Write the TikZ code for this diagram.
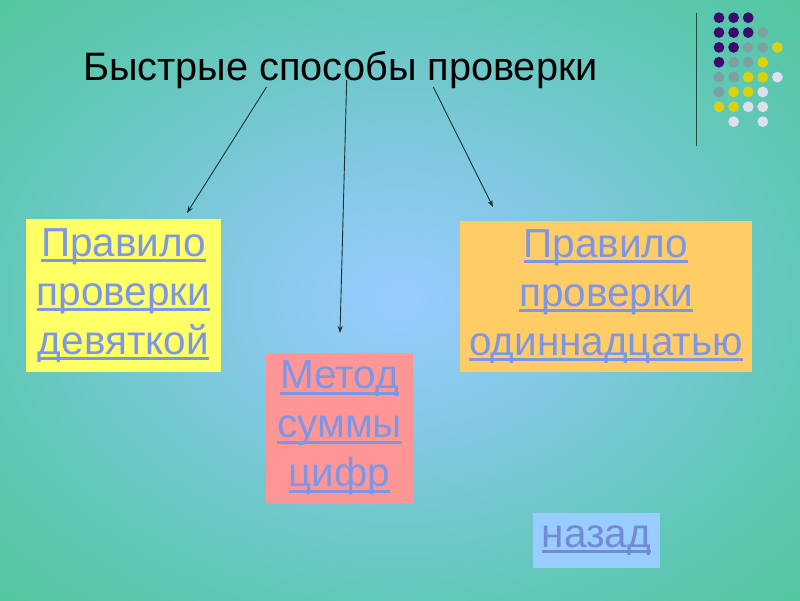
\documentclass[tikz,border=0pt]{standalone}
\usepackage{fontspec}
\setmainfont{Liberation Sans}
\usetikzlibrary{arrows.meta}
\definecolor{bgin}{RGB}{153,204,255}
\definecolor{bgmid}{RGB}{128,200,225}
\definecolor{bgmid2}{RGB}{98,200,185}
\definecolor{bgmid3}{RGB}{76,198,148}
\definecolor{bgout}{RGB}{66,198,132}
\definecolor{bgcorner}{RGB}{60,198,120}
\definecolor{linkc}{RGB}{125,150,230}
\definecolor{boxyellow}{RGB}{255,255,102}
\definecolor{boxpink}{RGB}{255,150,150}
\definecolor{boxorange}{RGB}{255,204,102}
\definecolor{boxblue}{RGB}{153,204,255}
\definecolor{dotP}{RGB}{60,10,110}
\definecolor{dotG}{RGB}{125,160,160}
\definecolor{dotY}{RGB}{220,210,10}
\definecolor{dotW}{RGB}{222,224,240}
\definecolor{vline}{RGB}{30,80,55}
\definecolor{arrowc}{RGB}{25,50,50}
\pgfdeclareradialshading{bgshade}{\pgfpoint{0bp}{0bp}}{color(0bp)=(bgin); color(12bp)=(bgmid); color(25bp)=(bgmid2); color(40bp)=(bgmid3); color(55bp)=(bgout); color(72bp)=(bgcorner)}
\newcommand{\myul}[1]{\setbox0\hbox{#1}\rlap{\rule[-0.15em]{\wd0}{0.08em}}\box0}
\tikzset{
  linkbox/.style={rectangle, inner sep=0pt, text=linkc, align=center,
    font=\fontsize{40.5}{49}\selectfont},
  arr/.style={draw=arrowc, line width=0.9pt, -{Stealth[length=7pt,width=5pt]}}
}
\begin{document}
\begin{tikzpicture}[x=1pt,y=-1pt]
\useasboundingbox (0,0) rectangle (800,600);
\shade[shading=bgshade] (0,0) rectangle (800,600);
% title
\node[anchor=base west, inner sep=0pt, font=\fontsize{39.7}{48}\selectfont] (title) at (83,80) {Быстрые способы проверки};
% boxes
\node[linkbox, fill=boxyellow, minimum width=195pt, minimum height=153pt] (b1) at (123.5,295.5)
  {\myul{Правило}\\\myul{проверки}\\\myul{девяткой}};
\node[linkbox, fill=boxpink, minimum width=147pt, minimum height=150pt] (b2) at (339.5,428)
  {\myul{Метод}\\\myul{суммы}\\\myul{цифр}};
\node[linkbox, fill=boxorange, minimum width=292pt, minimum height=151pt] (b3) at (606,296.5)
  {\myul{Правило}\\\myul{проверки}\\\myul{одиннадцатью}};
\node[linkbox, fill=boxblue, minimum width=127pt, minimum height=55pt, text=linkc!92!black] (back) at (596.5,540.5)
  {\myul{назад}};
% arrows
\coordinate (s1) at (266.5,87);
\coordinate (e1) at (187,213);
\coordinate (s2) at (346.7,80);
\coordinate (e2) at (340,333);
\coordinate (s3) at (433.3,87);
\coordinate (e3) at (493,207);
\draw[arr] (s1) -- (e1);
\draw[arr] (s2) -- (e2);
\draw[arr] (s3) -- (e3);
% decoration
\coordinate (vt) at (696.5,13);
\coordinate (vb) at (696.5,146);
\draw[vline, line width=1.4pt] (vt) -- (vb);
\foreach \c/\r/\col in {0/0/dotP,1/0/dotP,2/0/dotP,
  0/1/dotP,1/1/dotP,2/1/dotP,3/1/dotG,
  0/2/dotP,1/2/dotP,2/2/dotG,3/2/dotG,4/2/dotY,
  0/3/dotP,1/3/dotG,2/3/dotG,3/3/dotY,
  0/4/dotG,1/4/dotG,2/4/dotY,3/4/dotY,4/4/dotW,
  0/5/dotG,1/5/dotY,2/5/dotY,3/5/dotW,
  0/6/dotY,1/6/dotY,2/6/dotW,3/6/dotW,
  1/7/dotW,3/7/dotW}
  \fill[\col] ({719+14.6*\c},{17.7+14.85*\r}) circle (5.4);
\end{tikzpicture}
\end{document}
